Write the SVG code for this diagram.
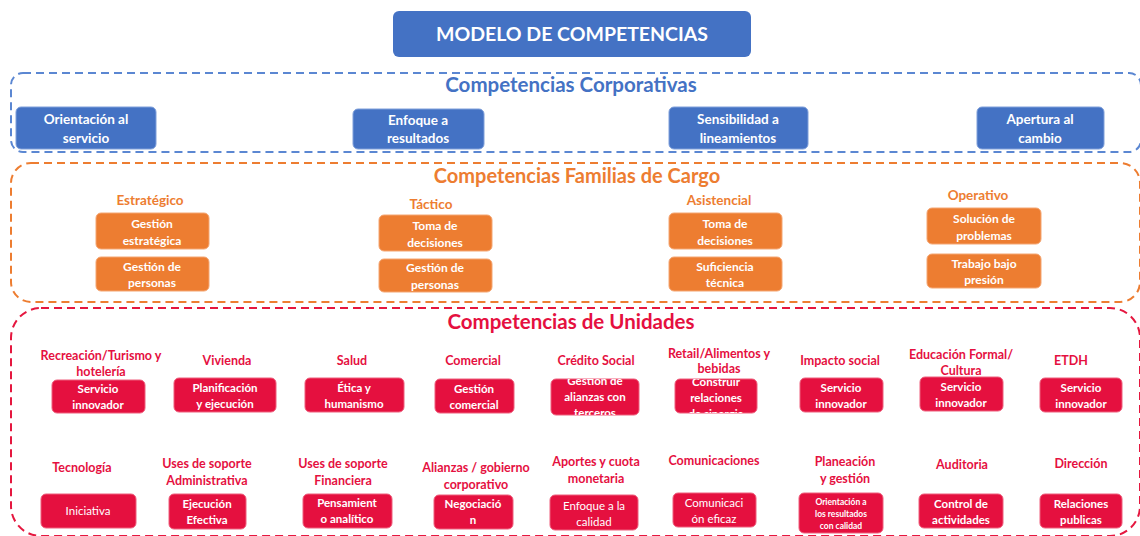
<svg xmlns="http://www.w3.org/2000/svg" width="1140" height="536" viewBox="0 0 1140 536">
<style>
text{font-family:Lato,"Open Sans","Liberation Sans",sans-serif;font-weight:bold;text-anchor:middle}
.bb{fill:#4472C4;stroke:#7E9FDA;stroke-width:1}
.ob{fill:#ED7D31;stroke:#F4A673;stroke-width:1}
.rb{fill:#E5103F;stroke:#EE5F7D;stroke-width:1}
.wt{fill:#fff}
.c13{font-size:13.5px}
.c12{font-size:12.5px}
.f12{font-size:12px}
.c11{font-size:11.5px}
.n{font-weight:normal}
.bl{fill:#4472C4}
.or{fill:#ED7D31}
.rd{fill:#E5103F}
.dash{fill:none;stroke-width:2;stroke-dasharray:8 5}
</style>
<defs>
<clipPath id="clipCred"><rect x="551" y="379" width="88" height="36" rx="5"/></clipPath>
<clipPath id="clipRet"><rect x="675" y="379" width="82" height="34" rx="5"/></clipPath>
</defs>

<g id="title">
<rect x="393" y="11" width="358" height="46" rx="6" fill="#4472C4"/>
<text x="572" y="41" class="wt" style="font-size:19.5px">MODELO DE COMPETENCIAS</text>
</g>

<g id="connectors">
<rect class="dash" x="11" y="73" width="1130" height="79" rx="12" stroke="#5B87D2"/>
<rect class="dash" x="11" y="163" width="1129" height="139" rx="20" stroke="#ED7D31"/>
<rect class="dash" x="11" y="308" width="1129" height="228" rx="30" stroke="#E5173F"/>
</g>

<g id="corporativas">
<text x="571" y="91.5" class="bl" style="font-size:20.5px">Competencias Corporativas</text>
<g id="corp1"><rect class="bb" x="16" y="107" width="140" height="42" rx="5"/><text class="wt c13" x="86" y="123.5">Orientación al</text><text class="wt c13" x="86" y="142.5">servicio</text></g>
<g id="corp2"><rect class="bb" x="353" y="109" width="131" height="40" rx="5"/><text class="wt c13" x="418" y="124.5">Enfoque a</text><text class="wt c13" x="418" y="143">resultados</text></g>
<g id="corp3"><rect class="bb" x="669" y="107" width="139" height="42" rx="5"/><text class="wt c13" x="738" y="123.5">Sensibilidad a</text><text class="wt c13" x="738" y="142.5">lineamientos</text></g>
<g id="corp4"><rect class="bb" x="977" y="107" width="127" height="42" rx="5"/><text class="wt c13" x="1040" y="123.5">Apertura al</text><text class="wt c13" x="1040" y="142.5">cambio</text></g>
</g>

<g id="familias">
<text x="577" y="183" class="or" style="font-size:20px">Competencias Familias de Cargo</text>
<g id="fam-estrategico">
<text class="or c13" x="150" y="204.5">Estratégico</text>
<rect class="ob" x="96" y="213" width="113" height="36" rx="5"/><text class="wt f12" x="152" y="227.5">Gestión</text><text class="wt f12" x="152" y="244.5">estratégica</text>
<rect class="ob" x="96" y="257" width="113" height="34" rx="5"/><text class="wt f12" x="152" y="270.5">Gestión de</text><text class="wt f12" x="152" y="287">personas</text>
</g>
<g id="fam-tactico">
<text class="or c13" x="431" y="208.5">Táctico</text>
<rect class="ob" x="379" y="215" width="113" height="36" rx="5"/><text class="wt f12" x="435" y="229.5">Toma de</text><text class="wt f12" x="435" y="246.5">decisiones</text>
<rect class="ob" x="379" y="259" width="113" height="33" rx="5"/><text class="wt f12" x="435" y="272">Gestión de</text><text class="wt f12" x="435" y="288.5">personas</text>
</g>
<g id="fam-asistencial">
<text class="or c13" x="719" y="204.5">Asistencial</text>
<rect class="ob" x="669" y="213" width="113" height="36" rx="5"/><text class="wt f12" x="725" y="227.5">Toma de</text><text class="wt f12" x="725" y="244.5">decisiones</text>
<rect class="ob" x="669" y="257" width="113" height="34" rx="5"/><text class="wt f12" x="725" y="270.5">Suficiencia</text><text class="wt f12" x="725" y="287">técnica</text>
</g>
<g id="fam-operativo">
<text class="or c13" x="978" y="199.5">Operativo</text>
<rect class="ob" x="927" y="208" width="114" height="36" rx="5"/><text class="wt f12" x="984" y="222.5">Solución de</text><text class="wt f12" x="984" y="239.5">problemas</text>
<rect class="ob" x="927" y="254" width="114" height="34" rx="5"/><text class="wt f12" x="984" y="267.5">Trabajo bajo</text><text class="wt f12" x="984" y="284">presión</text>
</g>
</g>

<g id="unidades">
<text x="571" y="329" class="rd" style="font-size:20.5px">Competencias de Unidades</text>

<g id="u-recreacion"><text class="rd c12" x="101" y="359.5">Recreación/Turismo y</text><text class="rd c12" x="101" y="375.5">hotelería</text>
<rect class="rb" x="52" y="380" width="93" height="33" rx="5"/><text class="wt c11" x="98" y="393">Servicio</text><text class="wt c11" x="98" y="409">innovador</text></g>
<g id="u-vivienda"><text class="rd c12" x="227" y="364.5">Vivienda</text>
<rect class="rb" x="174" y="378" width="102" height="34" rx="5"/><text class="wt c11" x="225" y="391.5">Planificación</text><text class="wt c11" x="225" y="407.5">y ejecución</text></g>
<g id="u-salud"><text class="rd c12" x="352" y="364.5">Salud</text>
<rect class="rb" x="305" y="378" width="99" height="34" rx="5"/><text class="wt c11" x="354" y="391.5">Ética y</text><text class="wt c11" x="354" y="407.5">humanismo</text></g>
<g id="u-comercial"><text class="rd c12" x="473" y="364.5">Comercial</text>
<rect class="rb" x="435" y="379" width="79" height="34" rx="5"/><text class="wt c11" x="474" y="392.5">Gestión</text><text class="wt c11" x="474" y="408.5">comercial</text></g>
<g id="u-credito"><text class="rd c12" x="596" y="364.5">Crédito Social</text>
<rect class="rb" x="551" y="379" width="88" height="36" rx="5"/>
<g clip-path="url(#clipCred)"><text class="wt c11" x="595" y="385">Gestión de</text><text class="wt c11" x="595" y="401">alianzas con</text><text class="wt c11" x="595" y="417">terceros</text></g></g>
<g id="u-retail"><text class="rd c12" x="719" y="357.5">Retail/Alimentos y</text><text class="rd c12" x="719" y="372.5">bebidas</text>
<rect class="rb" x="675" y="379" width="82" height="34" rx="5"/>
<g clip-path="url(#clipRet)"><text class="wt c11" x="716" y="385.5">Construir</text><text class="wt c11" x="716" y="401.5">relaciones</text><text class="wt c11" x="716" y="417.5">de sinergia</text></g></g>
<g id="u-impacto"><text class="rd c12" x="840" y="364.5">Impacto social</text>
<rect class="rb" x="800" y="378" width="83" height="34" rx="5"/><text class="wt c11" x="841" y="391.5">Servicio</text><text class="wt c11" x="841" y="407.5">innovador</text></g>
<g id="u-educacion"><text class="rd c12" x="961" y="359">Educación Formal/</text><text class="rd c12" x="961" y="374.5">Cultura</text>
<rect class="rb" x="920" y="377" width="83" height="34" rx="5"/><text class="wt c11" x="961" y="390.5">Servicio</text><text class="wt c11" x="961" y="406.5">innovador</text></g>
<g id="u-etdh"><text class="rd c12" x="1071" y="364.5">ETDH</text>
<rect class="rb" x="1040" y="378" width="82" height="34" rx="5"/><text class="wt c11" x="1081" y="391.5">Servicio</text><text class="wt c11" x="1081" y="407.5">innovador</text></g>

<g id="u-tecnologia"><text class="rd c12" x="82" y="471.5">Tecnología</text>
<rect class="rb" x="41" y="494" width="95" height="34" rx="5"/><text class="wt c11 n" x="88" y="515">Iniciativa</text></g>
<g id="u-administrativa"><text class="rd c12" x="207" y="467.5">Uses de soporte</text><text class="rd c12" x="207" y="484.5">Administrativa</text>
<rect class="rb" x="169" y="494" width="77" height="35" rx="5"/><text class="wt c11" x="207" y="507.5">Ejecución</text><text class="wt c11" x="207" y="523.5">Efectiva</text></g>
<g id="u-financiera"><text class="rd c12" x="343" y="467.5">Uses de soporte</text><text class="rd c12" x="343" y="484.5">Financiera</text>
<rect class="rb" x="303" y="494" width="89" height="34" rx="5"/><text class="wt c11" x="347" y="507">Pensamient</text><text class="wt c11" x="347" y="523">o analítico</text></g>
<g id="u-alianzas"><text class="rd c12" x="476" y="471.5">Alianzas / gobierno</text><text class="rd c12" x="476" y="488.5">corporativo</text>
<rect class="rb" x="434" y="495" width="79" height="34" rx="5"/><text class="wt c11" x="473" y="508">Negociació</text><text class="wt c11" x="473" y="524">n</text></g>
<g id="u-aportes"><text class="rd c12" x="596" y="465.5">Aportes y cuota</text><text class="rd c12" x="596" y="482.5">monetaria</text>
<rect class="rb" x="550" y="495" width="88" height="35" rx="5"/><text class="wt c11 n" x="594" y="510">Enfoque a la</text><text class="wt c11 n" x="594" y="526">calidad</text></g>
<g id="u-comunicaciones"><text class="rd c12" x="714" y="464.5">Comunicaciones</text>
<rect class="rb" x="673" y="493" width="83" height="34" rx="5"/><text class="wt c11 n" x="714" y="506.5">Comunicaci</text><text class="wt c11 n" x="714" y="522.5">ón eficaz</text></g>
<g id="u-planeacion"><text class="rd c12" x="845" y="465.5">Planeación</text><text class="rd c12" x="845" y="482.5">y gestión</text>
<rect class="rb" x="799" y="493" width="84" height="40" rx="5"/><text class="wt" style="font-size:8.5px" x="841" y="505">Orientación a</text><text class="wt" style="font-size:8.5px" x="841" y="517">los resultados</text><text class="wt" style="font-size:8.5px" x="841" y="529">con calidad</text></g>
<g id="u-auditoria"><text class="rd c12" x="962" y="468.5">Auditoria</text>
<rect class="rb" x="919" y="494" width="84" height="34" rx="5"/><text class="wt c11" x="961" y="507.5">Control de</text><text class="wt c11" x="961" y="523.5">actividades</text></g>
<g id="u-direccion"><text class="rd c12" x="1081" y="467.5">Dirección</text>
<rect class="rb" x="1040" y="494" width="82" height="34" rx="5"/><text class="wt c11" x="1081" y="507.5">Relaciones</text><text class="wt c11" x="1081" y="523.5">publicas</text></g>
</g>
</svg>
